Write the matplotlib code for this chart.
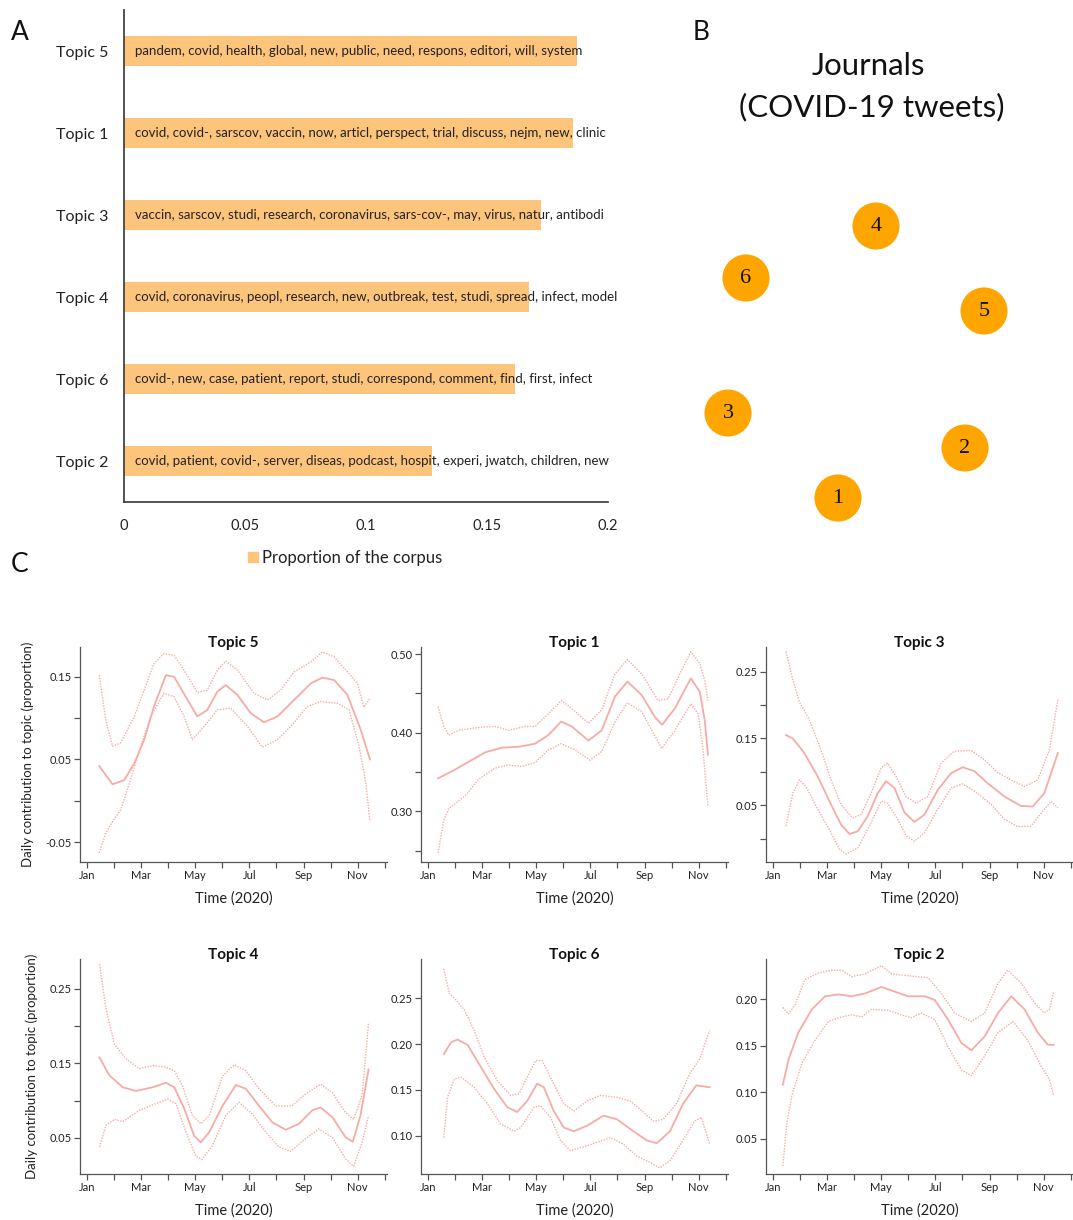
import matplotlib
matplotlib.use("Agg")
import matplotlib.pyplot as plt
from matplotlib.patches import Patch

plt.rcParams['font.family'] = ['Lato', 'DejaVu Sans']

W, H = 1073, 1220

# --- A: proportion of corpus per topic ---
bar_topics = ['Topic 5', 'Topic 1', 'Topic 3', 'Topic 4', 'Topic 6', 'Topic 2']
bar_props = [0.1872, 0.1855, 0.1723, 0.1674, 0.1616, 0.1273]
bar_words = [
    'pandem, covid, health, global, new, public, need, respons, editori, will, system',
    'covid, covid-, sarscov, vaccin, now, articl, perspect, trial, discuss, nejm, new, clinic',
    'vaccin, sarscov, studi, research, coronavirus, sars-cov-, may, virus, natur, antibodi',
    'covid, coronavirus, peopl, research, new, outbreak, test, studi, spread, infect, model',
    'covid-, new, case, patient, report, studi, correspond, comment, find, first, infect',
    'covid, patient, covid-, server, diseas, podcast, hospit, experi, jwatch, children, new',
]

# --- B: intertopic map (arbitrary units) ---
map_labels = ['1', '2', '3', '4', '5', '6']
map_d1 = [-0.18, 1.09, -1.28, 0.20, 1.28, -1.10]
map_d2 = [-1.98, -1.48, -1.13, 0.74, -0.11, 0.22]

# --- C: daily contribution, (month, value) with 95% band ---
t5_mid = [(0.46, 0.042), (0.95, 0.020), (1.38, 0.025), (1.75, 0.045), (2.12, 0.074), (2.48, 0.114),
          (2.92, 0.152), (3.22, 0.150), (3.65, 0.126), (4.08, 0.102), (4.45, 0.110), (4.82, 0.132),
          (5.13, 0.140), (5.56, 0.128), (6.05, 0.106), (6.54, 0.095), (7.04, 0.102), (7.65, 0.122),
          (8.27, 0.142), (8.70, 0.149), (9.13, 0.146), (9.62, 0.128), (10.11, 0.086), (10.45, 0.050)]
t5_up = [(0.46, 0.152), (0.70, 0.098), (0.95, 0.066), (1.25, 0.070), (1.75, 0.102), (2.12, 0.134),
         (2.48, 0.166), (2.85, 0.178), (3.22, 0.176), (3.59, 0.158), (4.08, 0.131), (4.45, 0.134),
         (4.82, 0.158), (5.13, 0.169), (5.56, 0.158), (6.17, 0.130), (6.67, 0.122), (7.16, 0.134),
         (7.65, 0.156), (8.27, 0.168), (8.70, 0.180), (9.13, 0.174), (9.62, 0.156), (9.99, 0.142),
         (10.23, 0.113), (10.45, 0.124)]
t5_low = [(0.46, -0.063), (0.70, -0.039), (0.95, -0.025), (1.25, -0.011), (1.62, 0.026), (1.99, 0.066),
          (2.36, 0.102), (2.85, 0.130), (3.22, 0.126), (3.59, 0.102), (3.90, 0.074), (4.33, 0.090),
          (4.82, 0.110), (5.31, 0.112), (5.93, 0.090), (6.48, 0.065), (7.04, 0.074), (7.53, 0.090),
          (8.14, 0.114), (8.63, 0.120), (9.25, 0.118), (9.68, 0.110), (10.05, 0.066), (10.30, 0.021),
          (10.45, -0.025)]

t1_mid = [(0.38, 0.342), (0.90, 0.351), (1.51, 0.363), (2.12, 0.375), (2.74, 0.381), (3.35, 0.382),
          (3.96, 0.386), (4.45, 0.397), (4.92, 0.414), (5.31, 0.408), (5.93, 0.390), (6.42, 0.403),
          (6.91, 0.446), (7.37, 0.465), (7.89, 0.448), (8.38, 0.420), (8.65, 0.410), (9.12, 0.431),
          (9.71, 0.469), (10.04, 0.452), (10.22, 0.416), (10.34, 0.372)]
t1_up = [(0.38, 0.433), (0.59, 0.408), (0.77, 0.397), (1.14, 0.403), (1.51, 0.405), (2.00, 0.407),
         (2.49, 0.408), (2.98, 0.403), (3.60, 0.408), (3.96, 0.408), (4.45, 0.424), (4.94, 0.441),
         (5.44, 0.427), (5.93, 0.412), (6.42, 0.429), (6.91, 0.475), (7.37, 0.493), (7.89, 0.475),
         (8.50, 0.441), (8.87, 0.443), (9.36, 0.479), (9.71, 0.503), (10.04, 0.488), (10.22, 0.467),
         (10.34, 0.441)]
t1_low = [(0.38, 0.247), (0.59, 0.289), (0.77, 0.303), (1.39, 0.320), (1.88, 0.341), (2.49, 0.355),
          (2.98, 0.359), (3.47, 0.357), (3.96, 0.362), (4.45, 0.378), (4.92, 0.386), (5.44, 0.378),
          (5.99, 0.365), (6.42, 0.376), (6.91, 0.414), (7.37, 0.438), (7.89, 0.427), (8.63, 0.380),
          (9.12, 0.403), (9.71, 0.437), (9.98, 0.424), (10.16, 0.378), (10.34, 0.306)]

t3_mid = [(0.49, 0.155), (0.74, 0.150), (1.17, 0.128), (1.66, 0.093), (2.15, 0.051), (2.52, 0.021),
          (2.83, 0.007), (3.14, 0.011), (3.51, 0.034), (3.87, 0.068), (4.18, 0.086), (4.49, 0.076),
          (4.86, 0.039), (5.23, 0.025), (5.60, 0.036), (6.09, 0.073), (6.58, 0.098), (7.01, 0.107),
          (7.44, 0.101), (7.93, 0.083), (8.55, 0.063), (9.16, 0.049), (9.59, 0.048), (10.02, 0.068),
          (10.52, 0.128)]
t3_up = [(0.49, 0.280), (0.74, 0.238), (0.98, 0.205), (1.35, 0.178), (1.78, 0.133), (2.15, 0.088),
         (2.52, 0.051), (2.95, 0.031), (3.26, 0.036), (3.63, 0.068), (4.00, 0.106), (4.24, 0.113),
         (4.55, 0.093), (4.92, 0.063), (5.29, 0.053), (5.72, 0.063), (6.21, 0.113), (6.70, 0.131),
         (7.32, 0.132), (7.81, 0.118), (8.30, 0.099), (8.79, 0.088), (9.29, 0.078), (9.78, 0.088),
         (10.21, 0.133), (10.52, 0.208)]
t3_low = [(0.49, 0.019), (0.74, 0.068), (0.98, 0.088), (1.23, 0.078), (1.66, 0.044), (2.15, 0.009),
          (2.46, -0.016), (2.71, -0.023), (3.14, -0.014), (3.63, 0.024), (4.00, 0.056), (4.24, 0.053),
          (4.61, 0.029), (4.92, 0.004), (5.23, -0.004), (5.60, 0.009), (6.09, 0.044), (6.58, 0.076),
          (7.01, 0.082), (7.56, 0.068), (8.06, 0.051), (8.55, 0.029), (9.04, 0.018), (9.53, 0.019),
          (9.96, 0.041), (10.27, 0.056), (10.52, 0.046)]

t4_mid = [(0.47, 0.158), (0.83, 0.134), (1.33, 0.118), (1.82, 0.113), (2.43, 0.118), (2.92, 0.124),
          (3.23, 0.118), (3.60, 0.089), (3.96, 0.053), (4.21, 0.044), (4.52, 0.058), (5.01, 0.093),
          (5.50, 0.121), (5.87, 0.116), (6.36, 0.093), (6.85, 0.071), (7.34, 0.061), (7.83, 0.069),
          (8.32, 0.087), (8.63, 0.091), (9.06, 0.078), (9.55, 0.051), (9.82, 0.045), (10.10, 0.080),
          (10.40, 0.142)]
t4_up = [(0.47, 0.283), (0.71, 0.223), (1.02, 0.176), (1.45, 0.156), (1.94, 0.143), (2.43, 0.147),
         (2.92, 0.145), (3.23, 0.140), (3.53, 0.120), (3.90, 0.080), (4.21, 0.069), (4.52, 0.080),
         (5.01, 0.133), (5.44, 0.148), (5.87, 0.140), (6.36, 0.116), (6.97, 0.093), (7.58, 0.093),
         (8.07, 0.109), (8.63, 0.122), (9.06, 0.111), (9.55, 0.084), (9.85, 0.075), (10.16, 0.107),
         (10.40, 0.205)]
t4_low = [(0.47, 0.038), (0.71, 0.067), (1.02, 0.075), (1.33, 0.072), (1.94, 0.087), (2.55, 0.096),
          (2.98, 0.102), (3.29, 0.096), (3.66, 0.058), (4.02, 0.026), (4.25, 0.021), (4.64, 0.040),
          (5.13, 0.080), (5.62, 0.098), (6.11, 0.082), (6.60, 0.058), (7.09, 0.038), (7.52, 0.032),
          (8.07, 0.049), (8.56, 0.062), (9.06, 0.051), (9.55, 0.022), (9.85, 0.012), (10.16, 0.044),
          (10.40, 0.080)]

t6_mid = [(0.59, 0.189), (0.86, 0.202), (1.10, 0.205), (1.47, 0.199), (1.96, 0.175), (2.45, 0.151),
          (2.94, 0.131), (3.30, 0.126), (3.67, 0.138), (4.04, 0.157), (4.28, 0.153), (4.65, 0.127),
          (5.02, 0.109), (5.39, 0.105), (5.88, 0.111), (6.49, 0.122), (6.98, 0.118), (7.59, 0.105),
          (8.08, 0.095), (8.45, 0.092), (8.94, 0.105), (9.42, 0.135), (9.91, 0.155), (10.40, 0.153)]
t6_up = [(0.59, 0.282), (0.80, 0.255), (1.04, 0.248), (1.35, 0.237), (1.71, 0.215), (2.08, 0.186),
         (2.57, 0.160), (3.06, 0.144), (3.37, 0.146), (3.67, 0.164), (3.98, 0.182), (4.22, 0.182),
         (4.59, 0.160), (5.02, 0.135), (5.39, 0.127), (5.88, 0.138), (6.36, 0.144), (6.98, 0.142),
         (7.47, 0.138), (7.96, 0.126), (8.32, 0.116), (8.69, 0.118), (9.18, 0.135), (9.67, 0.168),
         (10.04, 0.184), (10.40, 0.215)]
t6_low = [(0.59, 0.098), (0.73, 0.142), (0.98, 0.162), (1.22, 0.164), (1.71, 0.153), (2.20, 0.135),
          (2.69, 0.113), (3.18, 0.105), (3.43, 0.109), (3.92, 0.131), (4.16, 0.133), (4.53, 0.120),
          (4.90, 0.095), (5.26, 0.084), (5.88, 0.089), (6.73, 0.098), (7.22, 0.091), (7.71, 0.078),
          (8.20, 0.071), (8.57, 0.065), (8.94, 0.073), (9.42, 0.095), (9.85, 0.116), (10.10, 0.120),
          (10.40, 0.091)]

t2_mid = [(0.37, 0.108), (0.58, 0.135), (0.94, 0.164), (1.44, 0.189), (1.93, 0.203), (2.42, 0.205),
          (2.91, 0.203), (3.40, 0.206), (4.01, 0.213), (4.50, 0.208), (4.99, 0.203), (5.61, 0.203),
          (5.98, 0.199), (6.47, 0.178), (6.96, 0.153), (7.33, 0.145), (7.82, 0.160), (8.31, 0.185),
          (8.80, 0.203), (9.29, 0.189), (9.78, 0.164), (10.15, 0.151), (10.37, 0.151)]
t2_up = [(0.37, 0.191), (0.58, 0.184), (0.82, 0.194), (1.19, 0.221), (1.68, 0.228), (2.17, 0.231),
         (2.54, 0.231), (2.91, 0.224), (3.40, 0.227), (4.01, 0.236), (4.38, 0.227), (4.99, 0.225),
         (5.73, 0.223), (6.22, 0.206), (6.71, 0.185), (7.33, 0.176), (7.82, 0.185), (8.31, 0.217),
         (8.67, 0.231), (9.17, 0.217), (9.66, 0.196), (10.02, 0.185), (10.21, 0.189), (10.37, 0.208)]
t2_low = [(0.37, 0.021), (0.52, 0.067), (0.70, 0.096), (1.07, 0.131), (1.56, 0.156), (2.05, 0.176),
          (2.54, 0.181), (2.91, 0.183), (3.28, 0.181), (3.64, 0.189), (4.26, 0.188), (4.75, 0.183),
          (5.12, 0.180), (5.48, 0.185), (5.98, 0.178), (6.47, 0.149), (6.96, 0.124), (7.33, 0.118),
          (7.82, 0.139), (8.31, 0.164), (8.86, 0.176), (9.41, 0.156), (9.90, 0.128), (10.21, 0.114),
          (10.37, 0.096)]

month_labels = ['Jan', '', 'Mar', '', 'May', '', 'Jul', '', 'Sep', '', 'Nov', '']

# panel name, curves, y limits, y ticks, y tick labels
panels = [
    ('Topic 5', t5_mid, t5_up, t5_low, (-0.074, 0.186),
     [-0.05, 0.0, 0.05, 0.10, 0.15], ['-0.05', '', '0.05', '', '0.15']),
    ('Topic 1', t1_mid, t1_up, t1_low, (0.2355, 0.509),
     [0.25, 0.30, 0.35, 0.40, 0.45, 0.50], ['', '0.30', '', '0.40', '', '0.50']),
    ('Topic 3', t3_mid, t3_up, t3_low, (-0.035, 0.287),
     [0.0, 0.05, 0.10, 0.15, 0.20, 0.25], ['', '0.05', '', '0.15', '', '0.25']),
    ('Topic 4', t4_mid, t4_up, t4_low, (0.0017, 0.290),
     [0.05, 0.10, 0.15, 0.20, 0.25], ['0.05', '', '0.15', '', '0.25']),
    ('Topic 6', t6_mid, t6_up, t6_low, (0.0584, 0.2927),
     [0.10, 0.15, 0.20, 0.25], ['0.10', '0.15', '0.20', '0.25']),
    ('Topic 2', t2_mid, t2_up, t2_low, (0.0124, 0.243),
     [0.05, 0.10, 0.15, 0.20], ['0.05', '0.10', '0.15', '0.20']),
]

BAR_COLOR = '#FDC47C'
DOT_COLOR = '#FFA500'
LINE_COLOR = '#F7ABA6'
AXIS_COLOR = '#555555'
TEXT_COLOR = '#222222'


def rect(left, top, right, bottom):
    return [left / W, 1 - bottom / H, (right - left) / W, (bottom - top) / H]


fig = plt.figure(figsize=(W / 100, H / 100), dpi=100)

# ---------------- A ----------------
ax = fig.add_axes(rect(124, 10, 608, 502))
ypos = list(range(len(bar_topics)))
ax.barh(ypos, bar_props, height=0.37, color=BAR_COLOR, label='Proportion of the corpus')
for y, words in zip(ypos, bar_words):
    ax.text(0.0045, y, words, va='center', ha='left', fontsize=9.5, color=TEXT_COLOR)
ax.set_xlim(0, 0.2)
ax.set_ylim(5.5, -0.5)
ax.set_yticks(ypos)
ax.set_yticklabels(bar_topics, fontsize=11.5, color=TEXT_COLOR)
ax.set_xticks([0, 0.05, 0.1, 0.15, 0.2])
ax.set_xticklabels(['0', '0.05', '0.1', '0.15', '0.2'], fontsize=10.5, color=TEXT_COLOR)
ax.tick_params(axis='y', length=0, pad=11)
ax.tick_params(axis='x', length=0, pad=12)
for s in ['top', 'right']:
    ax.spines[s].set_visible(False)
for s in ['left', 'bottom']:
    ax.spines[s].set_color('#444444')
    ax.spines[s].set_linewidth(1.3)
fig.legend(handles=[Patch(color=BAR_COLOR, label='Proportion of the corpus')],
           loc='center', bbox_to_anchor=(345 / W, 1 - 558 / H), frameon=False,
           fontsize=12, handlelength=0.6, handleheight=0.6, handletextpad=0.2,
           labelcolor=TEXT_COLOR)

# ---------------- B ----------------
axb = fig.add_axes(rect(680, 0, 1073, 540))
axb.scatter(map_d1, map_d2, s=1150, color=DOT_COLOR, edgecolors='none')
for x, y, lab in zip(map_d1, map_d2, map_labels):
    axb.text(x, y, lab, ha='center', va='center', fontsize=16,
             family='Liberation Serif', color='#111111')
axb.set_xlim(-1.76, 2.17)
axb.set_ylim(-2.4, 3.0)
axb.axis('off')
fig.text(868 / W, 1 - 66 / H, 'Journals', ha='center', va='center', fontsize=22.5, color='#111111')
fig.text(872 / W, 1 - 107 / H, '(COVID-19 tweets)', ha='center', va='center', fontsize=22.5,
         color='#111111')

# panel letters
fig.text(11 / W, 1 - 32 / H, 'A', fontsize=19, va='center', color='#111111')
fig.text(693 / W, 1 - 32 / H, 'B', fontsize=19, va='center', color='#111111')
fig.text(11 / W, 1 - 565 / H, 'C', fontsize=19, va='center', color='#111111')

# ---------------- C ----------------
col_left = [80, 421, 766]
row_top = [647, 959]
for i, (name, mid, up, low, ylim, yt, ytl) in enumerate(panels):
    r, c = divmod(i, 3)
    left, top = col_left[c], row_top[r]
    axc = fig.add_axes(rect(left, top, left + 307, top + 215))
    for curve, ls, lw in [(up, (0, (1, 1)), 1.0), (low, (0, (1, 1)), 1.0), (mid, '-', 1.3)]:
        axc.plot([p[0] for p in curve], [p[1] for p in curve], ls=ls, lw=lw, color=LINE_COLOR,
                 solid_joinstyle='round')
    axc.set_xlim(-0.25, 11.08)
    axc.set_ylim(*ylim)
    axc.set_xticks(range(12))
    axc.set_xticklabels(month_labels, fontsize=8, color=TEXT_COLOR)
    axc.set_yticks(yt)
    axc.set_yticklabels(ytl, fontsize=8, color=TEXT_COLOR)
    axc.tick_params(length=4, width=0.9, color=AXIS_COLOR, pad=2)
    for s in ['top', 'right']:
        axc.spines[s].set_visible(False)
    for s in ['left', 'bottom']:
        axc.spines[s].set_color(AXIS_COLOR)
        axc.spines[s].set_linewidth(0.9)
    axc.text(0.5, 1.02, name, transform=axc.transAxes, ha='center', va='center',
             fontsize=11, fontweight='bold', color='#111111')
    axc.set_xlabel('Time (2020)', fontsize=10.5, color=TEXT_COLOR, labelpad=7)
    if c == 0:
        axc.set_ylabel('Daily contribution to topic (proportion)', fontsize=9.5,
                       color=TEXT_COLOR, labelpad=8)

fig.savefig('out.png', dpi=100)
